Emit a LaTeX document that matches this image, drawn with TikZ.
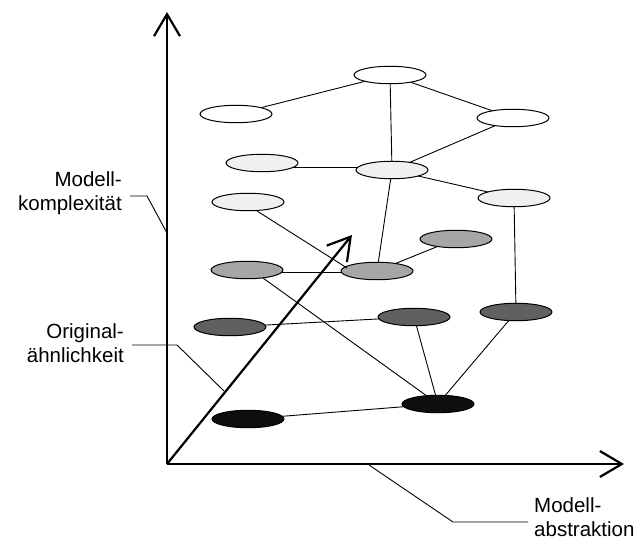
\documentclass[tikz,border=0pt]{standalone}
\usepackage{fontspec}
\setmainfont{Liberation Sans}
\usetikzlibrary{arrows.meta,shapes.geometric}
\definecolor{cwhite}{HTML}{FFFFFF}
\definecolor{clight}{HTML}{F0F0F0}
\definecolor{cmid}{HTML}{A6A6A6}
\definecolor{cdark}{HTML}{606060}
\definecolor{cblack}{HTML}{0E0E0E}
\begin{document}
\begin{tikzpicture}[x=1pt,y=-1pt,
  el/.style={ellipse, draw=black, line width=1pt, minimum width=72pt, minimum height=17.5pt, inner sep=0pt},
  edge/.style={draw=black, line width=0.9pt},
  axis/.style={draw=black, line width=2.2pt, -{Straight Barb[length=22pt,width=26pt]}},
  lab/.style={font=\fontsize{20.5pt}{23.5pt}\selectfont, inner sep=0pt},
  leader/.style={draw=black, line width=0.9pt}]
\useasboundingbox (0,0) rectangle (639,540);
% axes
\coordinate (O) at (167,464);
\coordinate (Ytop) at (167,12);
\coordinate (Xend) at (624,464);
\coordinate (Dend) at (352,235);
% ellipse positions
\path
  (390,75)  coordinate (pA)
  (236,114) coordinate (pB)
  (513,118) coordinate (pC)
  (262,163) coordinate (pD)
  (392,170) coordinate (pE)
  (514,198) coordinate (pF)
  (248,202) coordinate (pG)
  (456,239) coordinate (pH)
  (247,270) coordinate (pI)
  (377,271) coordinate (pJ)
  (230,327) coordinate (pK)
  (414,317) coordinate (pL)
  (516,312) coordinate (pM)
  (248,419) coordinate (pN)
  (438,404) coordinate (pO);
% edges first
\draw[edge] (pB) -- (pA);
\draw[edge] (pA) -- (pE);
\draw[edge] (pA) -- (pC);
\draw[edge] (pC) -- (pE);
\draw[edge] (262,167) -- (392,167);
\draw[edge] (pE) -- (pF);
\draw[edge] (pE) -- (pJ);
\draw[edge] (pF) -- (pM);
\draw[edge] (pJ) -- (pH);
\draw[edge] (247,272) -- (377,272);
\draw[edge] (263,278) -- (pO);
\draw[edge] (pK) -- (pL);
\draw[edge] (pL) -- (pO);
\draw[edge] (pM) -- (pO);
\draw[edge] (pN) -- (pO);
% ellipses
\node[el, fill=cwhite] (A) at (pA) {};
\node[el, fill=cwhite] (B) at (pB) {};
\node[el, fill=cwhite] (C) at (pC) {};
\node[el, fill=clight] (D) at (pD) {};
\node[el, fill=clight] (E) at (pE) {};
\node[el, fill=clight] (F) at (pF) {};
\node[el, fill=clight] (G) at (pG) {};
\node[el, fill=cmid] (H) at (pH) {};
\node[el, fill=cmid] (I) at (pI) {};
\node[el, fill=cmid] (J) at (pJ) {};
\node[el, fill=cdark] (K) at (pK) {};
\node[el, fill=cdark] (L) at (pL) {};
\node[el, fill=cdark] (M) at (pM) {};
\node[el, fill=cblack] (N) at (pN) {};
\node[el, fill=cblack] (Oe) at (pO) {};
% line from G into J (drawn over J)
\coordinate (Gs) at (257,211);
\coordinate (Jin) at (347,268);
\draw[edge] (Gs) -- (Jin);
% axes
\draw[axis] (O) -- (Ytop);
\draw[axis] (O) -- (Xend);
\draw[axis] (O) -- (Dend);
% labels
\node[lab, align=right, anchor=base east] (l1) at (122,210) {Modell-\\komplexität};
\node[lab, align=right, anchor=base east] (l2) at (124,362) {Original-\\ähnlichkeit};
\node[lab, align=left, anchor=base west] (l3) at (534,536) {Modell-\\abstraktion};
% leaders
\coordinate (k1) at (130,196);
\coordinate (k2) at (147,196);
\coordinate (k3) at (167,233);
\draw[leader] (k1) -- (k2) -- (k3);
\coordinate (o1) at (132,345);
\coordinate (o2) at (177,345);
\coordinate (o3) at (224,391);
\draw[leader] (o1) -- (o2) -- (o3);
\coordinate (a1) at (369,465);
\coordinate (a2) at (453,522);
\coordinate (a3) at (528,522);
\draw[leader] (a1) -- (a2) -- (a3);
\end{tikzpicture}
\end{document}
